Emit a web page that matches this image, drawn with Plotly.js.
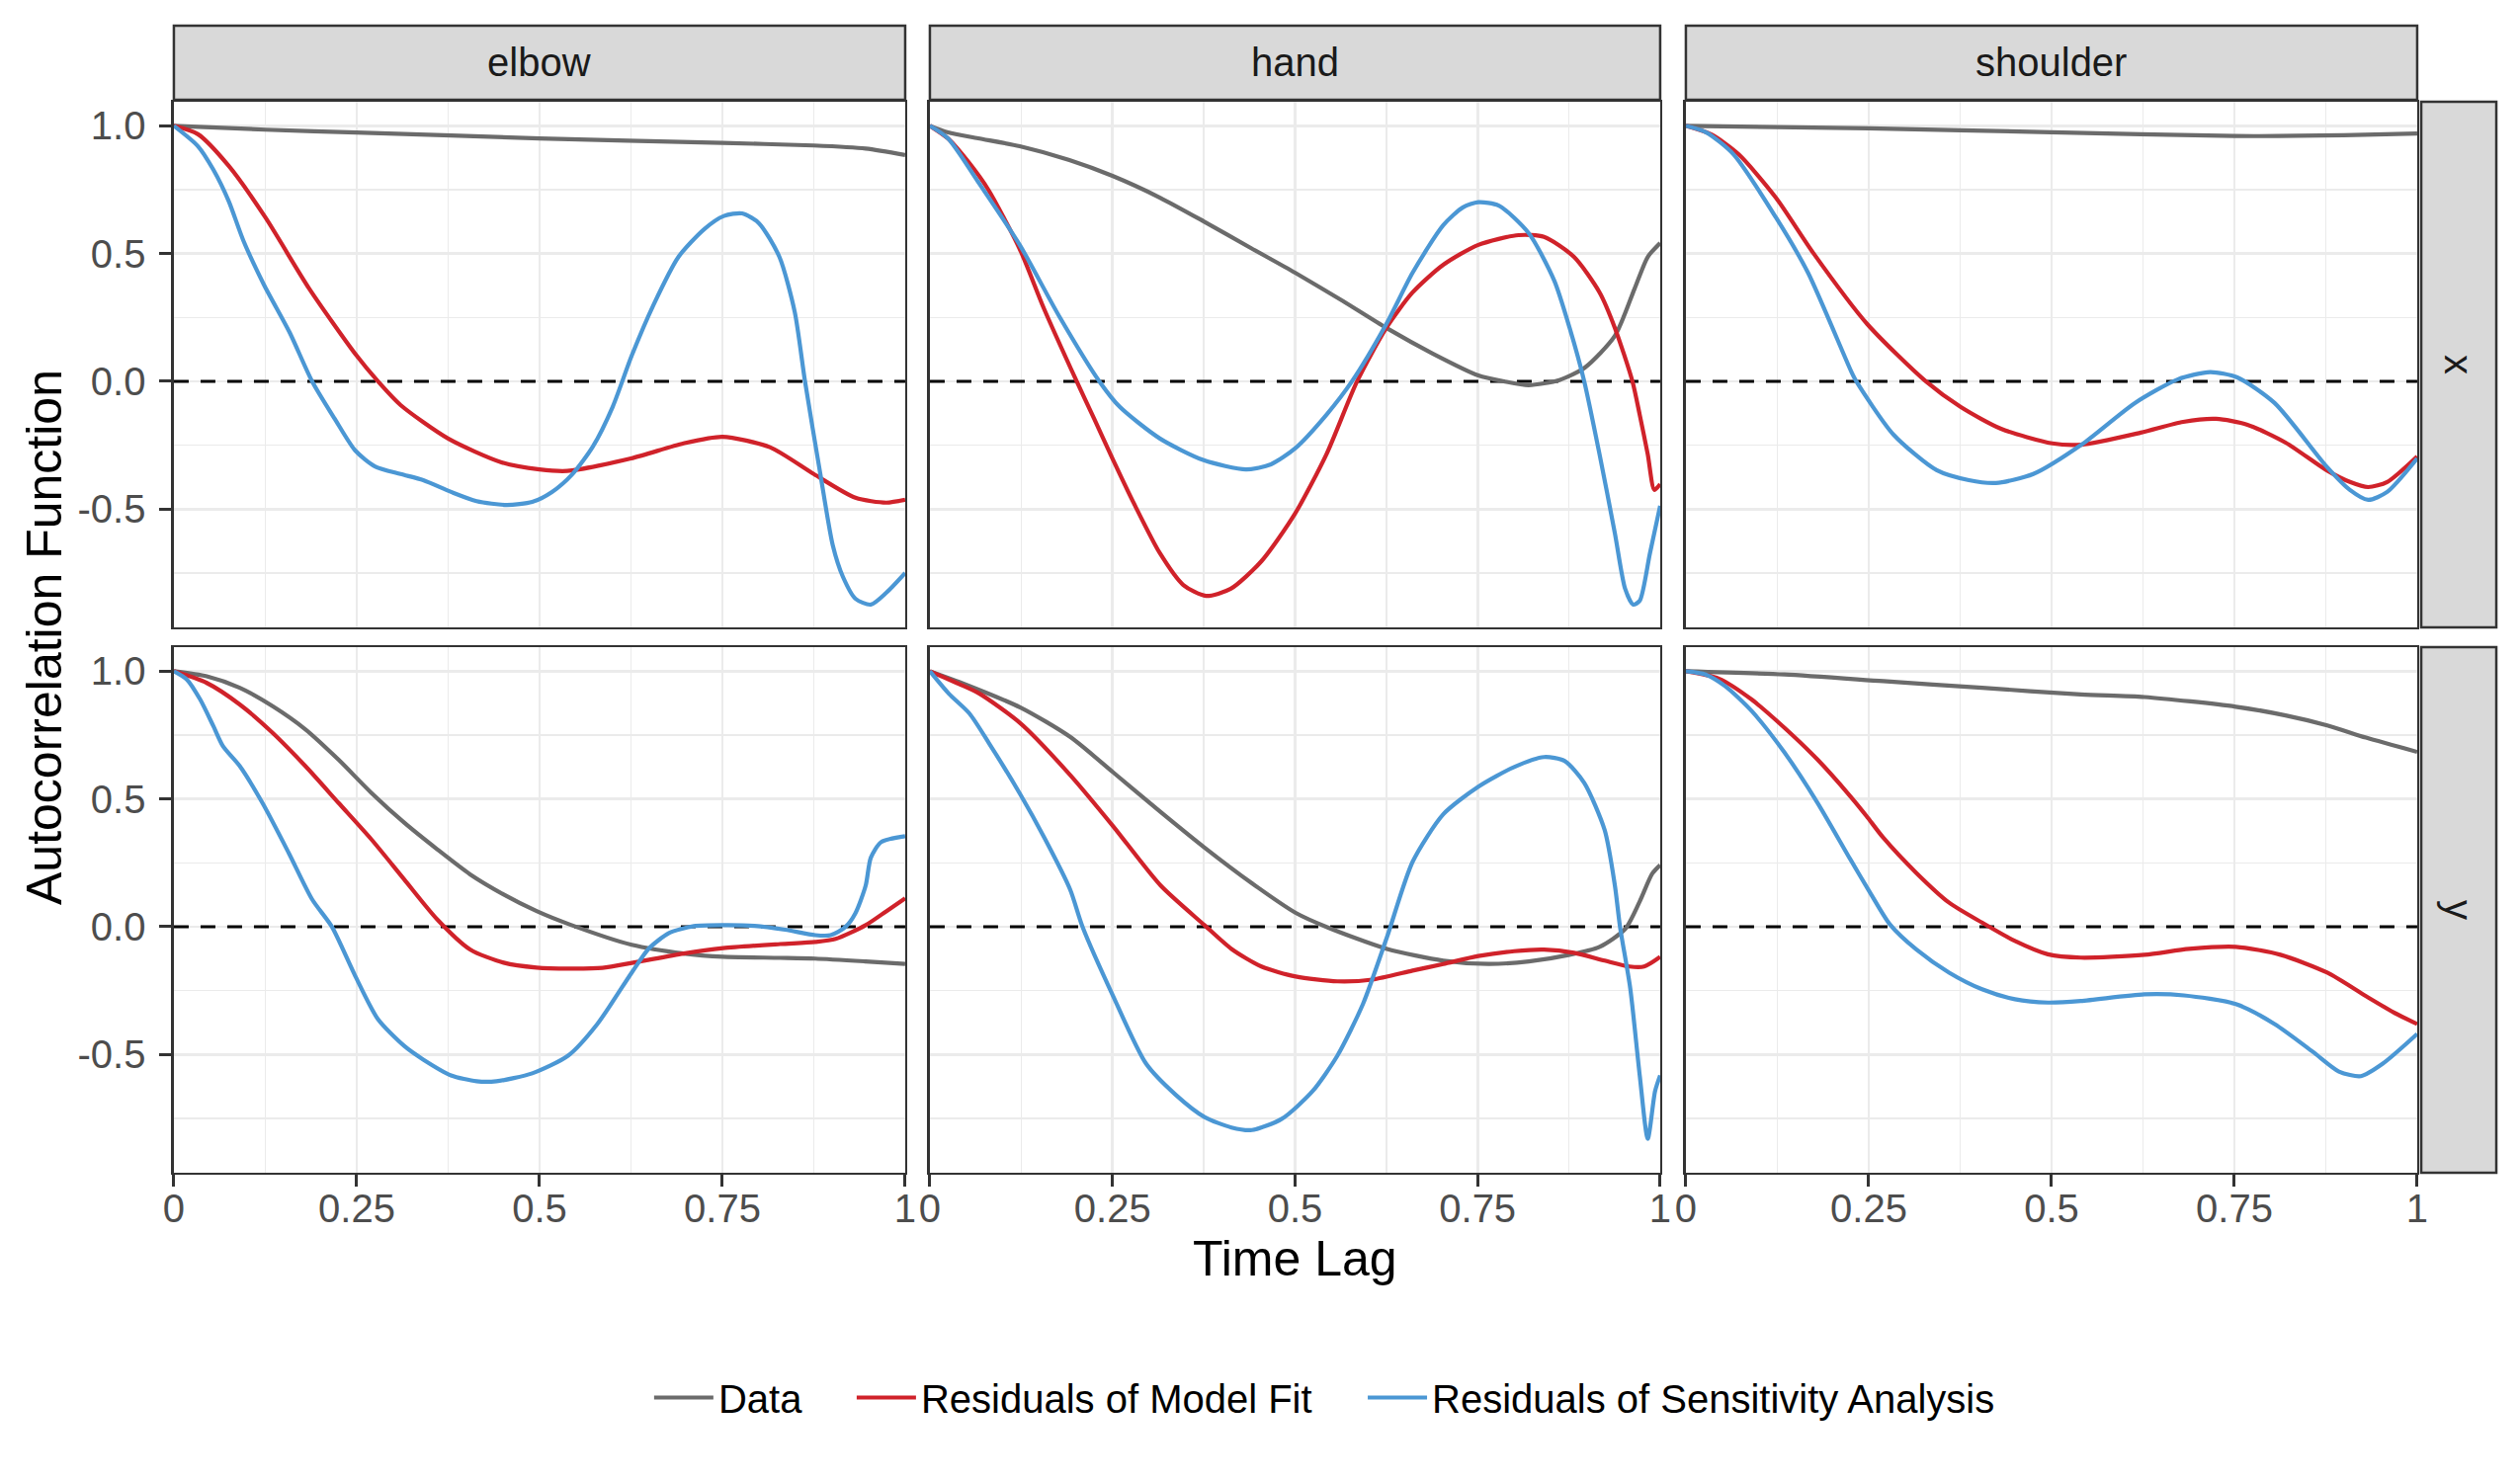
<!DOCTYPE html>
<html>
<head>
<meta charset="utf-8">
<script src="https://cdn.plot.ly/plotly-3.0.1.min.js"></script>
<style>
  body { margin: 0; background: #fff; }
  #acf-plot { width: 2550px; height: 1500px; }
</style>
</head>
<body>
<div id="acf-plot"></div>
<script>
// facet labels and legend names
const joints = ['elbow', 'hand', 'shoulder'];
const coords = ['x', 'y'];
const seriesNames = ['Data', 'Residuals of Model Fit', 'Residuals of Sensitivity Analysis'];
const seriesColors = ['#6b6b6b', '#d0222a', '#4b97d4'];

const xTickVals = [0, 0.25, 0.5, 0.75, 1];
const xTickText = ['0', '0.25', '0.5', '0.75', '1'];
const yTickVals = [-0.5, 0, 0.5, 1];
const yTickText = ['-0.5', '0.0', '0.5', '1.0'];

// ---- elbow / x ----
const lagElbowXData = [0, 0.125, 0.25, 0.5, 0.75, 0.875, 0.946, 1.0];
const acfElbowXData = [1.0, 0.985, 0.974, 0.951, 0.933, 0.923, 0.911, 0.886];
const lagElbowXModel = [0, 0.033, 0.075, 0.125, 0.185, 0.25, 0.279, 0.31, 0.375, 0.448, 0.5, 0.538, 0.625, 0.697, 0.75, 0.815, 0.875, 0.932, 0.974, 1.0];
const acfElbowXModel = [1.0, 0.967, 0.843, 0.642, 0.363, 0.10, 0, -0.093, -0.224, -0.317, -0.345, -0.351, -0.302, -0.243, -0.217, -0.258, -0.363, -0.456, -0.475, -0.464];
const lagElbowXSens = [0, 0.033, 0.054, 0.075, 0.095, 0.123, 0.158, 0.189, 0.22, 0.248, 0.275, 0.31, 0.341, 0.379, 0.414, 0.455, 0.49, 0.517, 0.545, 0.573, 0.6, 0.626, 0.656, 0.69, 0.725, 0.752, 0.777, 0.80, 0.828, 0.849, 0.863, 0.884, 0.901, 0.915, 0.932, 0.953, 0.974, 1.0];
const acfElbowXSens = [1.0, 0.92, 0.828, 0.705, 0.551, 0.379, 0.193, 0, -0.147, -0.271, -0.333, -0.363, -0.387, -0.433, -0.469, -0.484, -0.472, -0.433, -0.363, -0.255, -0.10, 0.10, 0.30, 0.487, 0.595, 0.647, 0.657, 0.619, 0.487, 0.271, 0, -0.363, -0.642, -0.766, -0.851, -0.874, -0.828, -0.75];

// ---- hand / x ----
const lagHandXData = [0, 0.025, 0.066, 0.123, 0.191, 0.25, 0.315, 0.375, 0.44, 0.5, 0.564, 0.625, 0.689, 0.751, 0.786, 0.82, 0.862, 0.897, 0.938, 0.965, 0.983, 1.0];
const acfHandXData = [1.0, 0.974, 0.951, 0.92, 0.866, 0.804, 0.719, 0.626, 0.521, 0.425, 0.317, 0.209, 0.108, 0.023, 0, -0.015, 0.005, 0.054, 0.178, 0.363, 0.487, 0.541];
const lagHandXModel = [0, 0.025, 0.053, 0.08, 0.123, 0.156, 0.201, 0.225, 0.25, 0.281, 0.315, 0.347, 0.378, 0.412, 0.454, 0.5, 0.543, 0.585, 0.625, 0.661, 0.703, 0.751, 0.806, 0.841, 0.882, 0.917, 0.938, 0.962, 0.972, 0.983, 0.992, 1.0];
const acfHandXModel = [1.0, 0.95, 0.858, 0.75, 0.518, 0.286, 0, -0.147, -0.302, -0.487, -0.673, -0.797, -0.84, -0.812, -0.704, -0.518, -0.286, 0, 0.209, 0.348, 0.456, 0.534, 0.572, 0.565, 0.487, 0.348, 0.209, 0, -0.131, -0.286, -0.425, -0.402];
const lagHandXSens = [0, 0.025, 0.066, 0.123, 0.177, 0.232, 0.26, 0.315, 0.375, 0.433, 0.467, 0.5, 0.543, 0.578, 0.625, 0.661, 0.703, 0.73, 0.751, 0.779, 0.82, 0.855, 0.876, 0.896, 0.917, 0.938, 0.952, 0.963, 0.972, 0.986, 1.0];
const acfHandXSens = [1.0, 0.95, 0.781, 0.534, 0.255, 0, -0.10, -0.224, -0.309, -0.345, -0.325, -0.263, -0.131, 0, 0.224, 0.425, 0.611, 0.681, 0.701, 0.688, 0.58, 0.394, 0.209, 0, -0.286, -0.595, -0.812, -0.874, -0.859, -0.673, -0.487];

// ---- shoulder / x ----
const lagShoulderXData = [0, 0.25, 0.5, 0.75, 0.9, 1.0];
const acfShoulderXData = [1.0, 0.99, 0.975, 0.96, 0.963, 0.97];
const lagShoulderXModel = [0, 0.035, 0.072, 0.123, 0.174, 0.248, 0.328, 0.376, 0.431, 0.501, 0.541, 0.622, 0.68, 0.725, 0.768, 0.82, 0.876, 0.908, 0.933, 0.959, 1.0];
const acfShoulderXModel = [1.0, 0.966, 0.889, 0.719, 0.503, 0.224, 0, -0.101, -0.186, -0.243, -0.248, -0.201, -0.159, -0.147, -0.170, -0.240, -0.348, -0.394, -0.414, -0.394, -0.294];
const lagShoulderXSens = [0, 0.028, 0.065, 0.123, 0.167, 0.226, 0.233, 0.284, 0.343, 0.387, 0.424, 0.475, 0.541, 0.614, 0.673, 0.717, 0.754, 0.805, 0.876, 0.908, 0.933, 0.959, 1.0];
const acfShoulderXSens = [1.0, 0.974, 0.889, 0.642, 0.425, 0.039, 0, -0.209, -0.348, -0.387, -0.398, -0.363, -0.248, -0.085, 0.008, 0.036, 0.015, -0.085, -0.333, -0.425, -0.464, -0.433, -0.302];

// ---- elbow / y ----
const lagElbowYData = [0, 0.045, 0.09, 0.135, 0.18, 0.225, 0.27, 0.315, 0.36, 0.405, 0.451, 0.496, 0.541, 0.626, 0.697, 0.751, 0.829, 0.877, 0.946, 1.0];
const acfElbowYData = [1.0, 0.98, 0.935, 0.863, 0.772, 0.654, 0.524, 0.407, 0.303, 0.205, 0.126, 0.061, 0.009, -0.071, -0.105, -0.118, -0.122, -0.125, -0.136, -0.146];
const lagElbowYModel = [0, 0.045, 0.09, 0.135, 0.18, 0.225, 0.27, 0.315, 0.36, 0.405, 0.451, 0.496, 0.541, 0.586, 0.628, 0.697, 0.751, 0.829, 0.877, 0.905, 0.946, 0.974, 1.0];
const acfElbowYModel = [1.0, 0.954, 0.87, 0.759, 0.628, 0.485, 0.342, 0.185, 0.029, -0.089, -0.141, -0.16, -0.164, -0.161, -0.141, -0.105, -0.084, -0.068, -0.060, -0.048, 0.006, 0.060, 0.111];
const lagElbowYSens = [0, 0.018, 0.036, 0.054, 0.067, 0.09, 0.121, 0.157, 0.189, 0.216, 0.248, 0.279, 0.315, 0.341, 0.379, 0.414, 0.441, 0.49, 0.539, 0.579, 0.626, 0.649, 0.677, 0.711, 0.753, 0.794, 0.836, 0.877, 0.898, 0.918, 0.932, 0.946, 0.953, 0.967, 1.0];
const acfElbowYSens = [1.0, 0.967, 0.889, 0.785, 0.707, 0.629, 0.485, 0.289, 0.107, 0, -0.193, -0.362, -0.467, -0.52, -0.582, -0.605, -0.605, -0.574, -0.505, -0.381, -0.180, -0.087, -0.025, 0.002, 0.006, 0.003, -0.012, -0.033, -0.033, -0.002, 0.053, 0.161, 0.27, 0.331, 0.354];

// ---- hand / y ----
const lagHandYData = [0, 0.04, 0.124, 0.192, 0.251, 0.316, 0.376, 0.441, 0.501, 0.544, 0.626, 0.703, 0.765, 0.82, 0.876, 0.917, 0.952, 0.972, 0.989, 1.0];
const acfHandYData = [1.0, 0.958, 0.858, 0.743, 0.604, 0.449, 0.310, 0.17, 0.054, -0.002, -0.087, -0.133, -0.146, -0.136, -0.110, -0.079, -0.009, 0.099, 0.207, 0.241];
const lagHandYModel = [0, 0.04, 0.068, 0.124, 0.192, 0.251, 0.316, 0.376, 0.413, 0.454, 0.501, 0.558, 0.606, 0.661, 0.703, 0.751, 0.8, 0.841, 0.882, 0.924, 0.958, 0.978, 1.0];
const acfHandYModel = [1.0, 0.95, 0.912, 0.796, 0.594, 0.393, 0.161, 0.006, -0.087, -0.156, -0.195, -0.214, -0.207, -0.172, -0.146, -0.115, -0.096, -0.090, -0.102, -0.133, -0.156, -0.156, -0.118];
const lagHandYSens = [0, 0.026, 0.054, 0.081, 0.124, 0.157, 0.192, 0.209, 0.251, 0.296, 0.337, 0.376, 0.413, 0.441, 0.482, 0.524, 0.558, 0.593, 0.626, 0.661, 0.703, 0.751, 0.8, 0.841, 0.869, 0.896, 0.924, 0.938, 0.945, 0.959, 0.972, 0.983, 0.993, 1.0];
const acfHandYSens = [1.0, 0.912, 0.835, 0.718, 0.517, 0.347, 0.146, 0, -0.272, -0.536, -0.659, -0.745, -0.786, -0.796, -0.752, -0.644, -0.505, -0.303, -0.040, 0.254, 0.440, 0.548, 0.625, 0.664, 0.649, 0.563, 0.378, 0.161, 0, -0.241, -0.582, -0.830, -0.644, -0.582];

// ---- shoulder / y ----
const lagShoulderYData = [0, 0.135, 0.27, 0.405, 0.54, 0.627, 0.752, 0.82, 0.877, 0.93, 1.0];
const acfShoulderYData = [1.0, 0.987, 0.961, 0.935, 0.909, 0.899, 0.861, 0.827, 0.788, 0.74, 0.684];
const lagShoulderYModel = [0, 0.045, 0.09, 0.135, 0.18, 0.225, 0.247, 0.27, 0.315, 0.36, 0.405, 0.45, 0.495, 0.54, 0.627, 0.688, 0.752, 0.813, 0.877, 0.93, 0.967, 1.0];
const acfShoulderYModel = [1.0, 0.971, 0.889, 0.778, 0.654, 0.51, 0.433, 0.348, 0.211, 0.094, 0.016, -0.056, -0.108, -0.121, -0.110, -0.087, -0.079, -0.110, -0.180, -0.272, -0.334, -0.381];
const lagShoulderYSens = [0, 0.027, 0.054, 0.09, 0.135, 0.18, 0.225, 0.252, 0.279, 0.315, 0.36, 0.405, 0.45, 0.495, 0.54, 0.627, 0.681, 0.752, 0.805, 0.857, 0.893, 0.923, 0.953, 1.0];
const acfShoulderYSens = [1.0, 0.987, 0.941, 0.844, 0.681, 0.485, 0.263, 0.133, 0.009, -0.089, -0.18, -0.245, -0.284, -0.297, -0.291, -0.265, -0.269, -0.303, -0.381, -0.489, -0.567, -0.585, -0.536, -0.42];

// panel table: row 1 = x, row 2 = y
const panels = [
  { lags: [lagElbowXData, lagElbowXModel, lagElbowXSens], acfs: [acfElbowXData, acfElbowXModel, acfElbowXSens] },
  { lags: [lagHandXData, lagHandXModel, lagHandXSens], acfs: [acfHandXData, acfHandXModel, acfHandXSens] },
  { lags: [lagShoulderXData, lagShoulderXModel, lagShoulderXSens], acfs: [acfShoulderXData, acfShoulderXModel, acfShoulderXSens] },
  { lags: [lagElbowYData, lagElbowYModel, lagElbowYSens], acfs: [acfElbowYData, acfElbowYModel, acfElbowYSens] },
  { lags: [lagHandYData, lagHandYModel, lagHandYSens], acfs: [acfHandYData, acfHandYModel, acfHandYSens] },
  { lags: [lagShoulderYData, lagShoulderYModel, lagShoulderYSens], acfs: [acfShoulderYData, acfShoulderYModel, acfShoulderYSens] }
];

const FONT = 'Liberation Sans, Arial, Helvetica, sans-serif';
const colDomains = [[0.0690, 0.3592], [0.3690, 0.6588], [0.6690, 0.9592]];
const rowDomains = [[0.5767, 0.9313], [0.2087, 0.5633]];
const stripTop = [0.9327, 0.9827];
const stripRight = [0.9608, 0.9906];
const yRange = [-0.963, 1.094];
const legendIds = ['legend', 'legend2', 'legend3'];
const legendX = [0.2576, 0.338, 0.5408];

const traces = [];
const layout = {
  width: 2550,
  height: 1500,
  margin: { l: 0, r: 0, t: 0, b: 0 },
  paper_bgcolor: '#ffffff',
  plot_bgcolor: '#ffffff',
  font: { family: FONT, size: 40, color: '#1a1a1a' },
  showlegend: true,
  shapes: [],
  annotations: []
};

// one legend box per series so the gaps can follow the reference
legendIds.forEach(function (id, s) {
  layout[id] = {
    orientation: 'h',
    x: legendX[s], xanchor: 'left',
    y: 0.057, yanchor: 'middle',
    itemwidth: 60,
    font: { family: FONT, size: 40, color: '#000000' },
    bgcolor: 'rgba(0,0,0,0)'
  };
});

panels.forEach(function (panel, p) {
  const row = Math.floor(p / 3);
  const col = p % 3;
  const n = p === 0 ? '' : String(p + 1);
  const xa = 'x' + n, ya = 'y' + n;

  for (let s = 0; s < 3; s++) {
    traces.push({
      x: panel.lags[s],
      y: panel.acfs[s],
      xaxis: xa,
      yaxis: ya,
      type: 'scatter',
      mode: 'lines',
      name: seriesNames[s],
      legend: legendIds[s],
      legendgroup: seriesNames[s],
      showlegend: p === 0,
      line: { color: seriesColors[s], width: 4.2, shape: 'spline', smoothing: 0.7 },
      hoverinfo: 'skip'
    });
  }

  const bottom = row === 1;
  const left = col === 0;
  layout['xaxis' + n] = {
    domain: colDomains[col],
    anchor: ya,
    range: [xTickVals[0], xTickVals[xTickVals.length - 1]],
    tickmode: 'array',
    tickvals: xTickVals,
    ticktext: xTickText,
    showticklabels: bottom,
    ticks: bottom ? 'outside' : '',
    ticklen: 12, tickwidth: 3, tickcolor: '#333333',
    tickfont: { family: FONT, size: 40, color: '#4d4d4d' },
    ticklabelstandoff: -12,
    showgrid: true, gridcolor: '#ebebeb', gridwidth: 2.8,
    minor: { tickmode: 'linear', tick0: 0.125, dtick: 0.25, showgrid: true, gridcolor: '#ebebeb', gridwidth: 1.4, ticks: '' },
    zeroline: false,
    showline: true, mirror: true, linecolor: '#333333', linewidth: 2.5,
    fixedrange: true
  };
  layout['yaxis' + n] = {
    domain: rowDomains[row],
    anchor: xa,
    range: yRange,
    tickmode: 'array',
    tickvals: yTickVals,
    ticktext: yTickText,
    showticklabels: left,
    ticks: left ? 'outside' : '',
    ticklen: 12, tickwidth: 3, tickcolor: '#333333',
    tickfont: { family: FONT, size: 40, color: '#4d4d4d' },
    ticklabelstandoff: 6,
    showgrid: true, gridcolor: '#ebebeb', gridwidth: 2.8,
    minor: { tickmode: 'linear', tick0: -0.75, dtick: 0.5, showgrid: true, gridcolor: '#ebebeb', gridwidth: 1.4, ticks: '' },
    zeroline: false,
    showline: true, mirror: true, linecolor: '#333333', linewidth: 2.5,
    fixedrange: true
  };

  // dashed reference at zero, across the whole lag axis
  layout.shapes.push({
    type: 'line', layer: 'between',
    xref: xa, x0: xTickVals[0], x1: xTickVals[xTickVals.length - 1],
    yref: ya, y0: 0, y1: 0,
    line: { color: '#000000', width: 3, dash: '15px,12px' }
  });
});

// top facet strips
joints.forEach(function (joint, c) {
  layout.shapes.push({
    type: 'rect', xref: 'paper', yref: 'paper',
    x0: colDomains[c][0], x1: colDomains[c][1], y0: stripTop[0], y1: stripTop[1],
    fillcolor: '#d9d9d9', line: { color: '#333333', width: 2.5 }
  });
  layout.annotations.push({
    text: joint, xref: 'paper', yref: 'paper',
    x: (colDomains[c][0] + colDomains[c][1]) / 2, y: (stripTop[0] + stripTop[1]) / 2,
    xanchor: 'center', yanchor: 'middle', showarrow: false,
    font: { family: FONT, size: 40, color: '#1a1a1a' }
  });
});

// right facet strips
coords.forEach(function (coord, r) {
  layout.shapes.push({
    type: 'rect', xref: 'paper', yref: 'paper',
    x0: stripRight[0], x1: stripRight[1], y0: rowDomains[r][0], y1: rowDomains[r][1],
    fillcolor: '#d9d9d9', line: { color: '#333333', width: 2.5 }
  });
  layout.annotations.push({
    text: coord, xref: 'paper', yref: 'paper',
    x: (stripRight[0] + stripRight[1]) / 2, y: (rowDomains[r][0] + rowDomains[r][1]) / 2,
    xanchor: 'center', yanchor: 'middle', showarrow: false, textangle: 90,
    font: { family: FONT, size: 40, color: '#1a1a1a' }
  });
});

// shared axis titles
layout.annotations.push({
  text: 'Time Lag', xref: 'paper', yref: 'paper',
  x: 0.514, y: 1 - 1274 / 1500, xanchor: 'center', yanchor: 'middle', showarrow: false,
  font: { family: FONT, size: 50, color: '#000000' }
});
layout.annotations.push({
  text: 'Autocorrelation Function', xref: 'paper', yref: 'paper',
  x: 45 / 2550, y: 1 - 645 / 1500, xanchor: 'center', yanchor: 'middle', showarrow: false,
  textangle: -90,
  font: { family: FONT, size: 50, color: '#000000' }
});

Plotly.newPlot('acf-plot', traces, layout, { staticPlot: true, displayModeBar: false });
</script>
</body>
</html>
